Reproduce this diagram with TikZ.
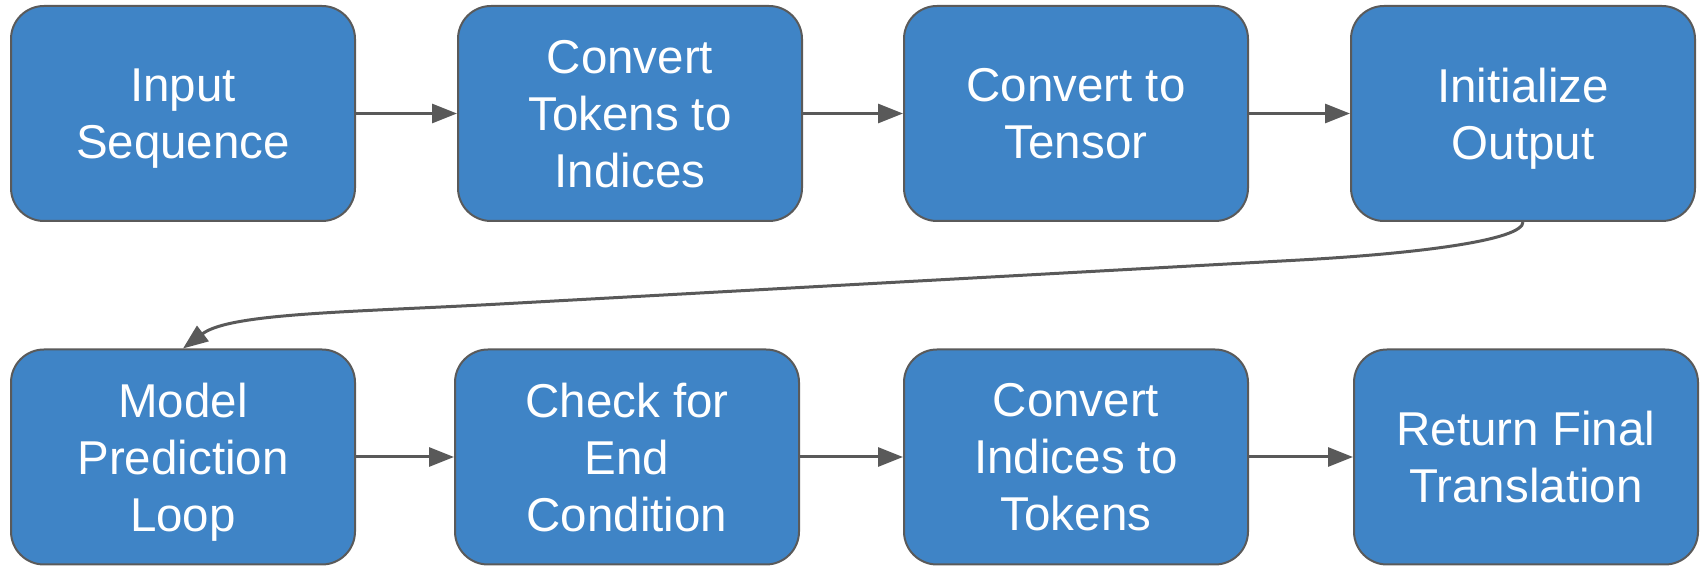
\documentclass[tikz,border=0pt]{standalone}
\usepackage{fontspec}
\setmainfont{Liberation Sans}
\usetikzlibrary{arrows.meta}
\definecolor{boxblue}{HTML}{3F84C6}
\definecolor{boxedge}{HTML}{5A5A5A}
\definecolor{flowgray}{HTML}{595959}
\begin{document}
\begin{tikzpicture}[x=1pt,y=1pt,
  stepbox/.style={draw=boxedge, line width=2pt, fill=boxblue, rounded corners=33pt,
    minimum width=344pt, minimum height=215pt, align=center, text=white,
    font=\fontsize{47.5}{57}\selectfont, inner sep=0pt, text depth=0pt},
  flow/.style={draw=flowgray, line width=3pt,
    -{Triangle[length=25pt,width=19pt]}}]
\useasboundingbox (0,0) rectangle (1701,567);
% top row
\node[stepbox] (a1) at (183,453.5) {Input\\Sequence};
\node[stepbox] (a2) at (630,453.5) {Convert\\Tokens to\\Indices};
\node[stepbox] (a3) at (1076,453.5) {Convert to\\Tensor};
\node[stepbox] (a4) at (1523,453.5) {Initialize\\Output};
% bottom row
\node[stepbox] (b1) at (183,110) {Model\\Prediction\\Loop};
\node[stepbox] (b2) at (627,110) {Check for\\End\\Condition};
\node[stepbox] (b3) at (1076,110) {Convert\\Indices to\\Tokens};
\node[stepbox] (b4) at (1526,110) {Return Final\\Translation};
% connectors
\draw[flow] (a1) -- (a2);
\draw[flow] (a2) -- (a3);
\draw[flow] (a3) -- (a4);
\draw[flow] (a4.south) .. controls (1523,327) and (1420,313.6) .. (1300,307)
  -- (500,263) .. controls (350,254.75) and (230,254) .. (b1.north);
\draw[flow] (b1) -- (b2);
\draw[flow] (b2) -- (b3);
\draw[flow] (b3) -- (b4);
\end{tikzpicture}
\end{document}
